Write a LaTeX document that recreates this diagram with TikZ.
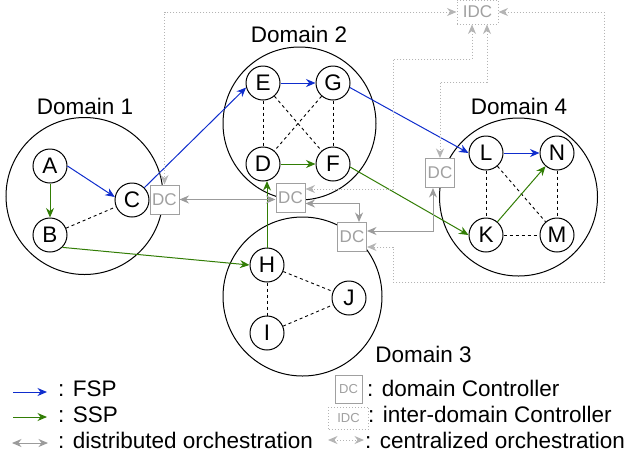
\documentclass[tikz,border=0pt]{standalone}
\usepackage{fontspec}
\setmainfont{Liberation Sans}
\usetikzlibrary{arrows.meta,calc}
\definecolor{fspblue}{RGB}{15,45,205}
\definecolor{sspgreen}{RGB}{50,125,5}
\definecolor{dcgray}{RGB}{160,160,160}
\definecolor{distgray}{RGB}{155,155,155}
\definecolor{centgray}{RGB}{180,180,180}
\begin{document}
\begin{tikzpicture}[x=1pt,y=-1pt,
  vertexnode/.style={circle, draw, line width=1pt, fill=white, minimum size=34pt, inner sep=0pt, font=\fontsize{22.5}{25}\selectfont},
  domcircle/.style={circle, draw, line width=1pt, inner sep=0pt},
  dlabel/.style={font=\fontsize{22.5}{26}\selectfont, inner sep=0pt},
  legtext/.style={font=\fontsize{22.5}{25}\selectfont, inner sep=0pt},
  dcbox/.style={rectangle, draw=dcgray, fill=white, text=dcgray, line width=1pt, minimum width=29pt, minimum height=29pt, inner sep=0pt, font=\fontsize{17}{19}\selectfont},
  idcbox/.style={rectangle, draw=centgray, fill=white, text=dcgray, line width=1pt, dash pattern=on 1pt off 2pt, minimum width=41pt, minimum height=24pt, inner sep=0pt, font=\fontsize{17}{19}\selectfont},
  fsparrow/.style={draw=fspblue, line width=1pt, -{Stealth[length=9.5pt,width=8pt]}},
  ssparrow/.style={draw=sspgreen, line width=1pt, -{Stealth[length=9.5pt,width=8pt]}},
  distarrow/.style={draw=distgray, line width=1pt, {Stealth[length=9.5pt,width=8pt]}-{Stealth[length=9.5pt,width=8pt]}},
  centarrow/.style={draw=centgray, line width=1pt, dash pattern=on 1pt off 2pt, {Stealth[length=9.5pt,width=8pt]}-{Stealth[length=9.5pt,width=8pt]}},
  dlink/.style={draw, line width=0.9pt, dash pattern=on 3pt off 3pt}
]
\useasboundingbox (0,0) rectangle (626,459);

% domains
\node[domcircle, minimum size=157pt] (dom1) at (84.5,196) {};
\node[domcircle, minimum size=153pt] (dom2) at (299.5,123.5) {};
\node[domcircle, minimum size=159pt] (dom3) at (302.5,296.5) {};
\node[domcircle, minimum size=158pt] (dom4) at (518.5,197) {};
\node[dlabel] (lab1) at (85,106.5) {Domain 1};
\node[dlabel] (lab2) at (299,34) {Domain 2};
\node[dlabel] (lab3) at (423.5,354) {Domain 3};
\node[dlabel] (lab4) at (519,106.5) {Domain 4};

% vertices
\node[vertexnode] (A) at (50,166) {A};
\node[vertexnode] (B) at (50,235) {B};
\node[vertexnode] (C) at (132,200) {C};
\node[vertexnode] (E) at (263,83) {E};
\node[vertexnode] (G) at (333,83) {G};
\node[vertexnode] (D) at (263,164) {D};
\node[vertexnode] (F) at (333,164) {F};
\node[vertexnode] (H) at (267,265) {H};
\node[vertexnode] (J) at (349,298) {J};
\node[vertexnode] (I) at (267,333) {I};
\node[vertexnode] (L) at (486,153) {L};
\node[vertexnode] (N) at (557,153) {N};
\node[vertexnode] (K) at (486,235) {K};
\node[vertexnode] (M) at (557,235) {M};

% controllers
\node[dcbox] (DC1) at (164.5,199.5) {DC};
\node[dcbox] (DC2) at (290.5,197.5) {DC};
\node[dcbox] (DC3) at (352,237) {DC};
\node[dcbox] (DC4) at (440,173) {DC};
\node[idcbox] (IDC) at (477.5,12) {IDC};

% dashed links
\draw[dlink] (B) -- (C);
\draw[dlink] (E) -- (D);
\draw[dlink] (E) -- (F);
\draw[dlink] (G) -- (D);
\draw[dlink] (G) -- (F);
\draw[dlink] (H) -- (I);
\draw[dlink] (H) -- (J);
\draw[dlink] (I) -- (J);
\draw[dlink] (L) -- (K);
\draw[dlink] (L) -- (M);
\draw[dlink] (N) -- (M);
\draw[dlink] (K) -- (M);

% FSP
\draw[fsparrow] (A.east) -- (C.170);
\draw[fsparrow] (C.45) -- (E.195);
\draw[fsparrow] (E) -- (G);
\draw[fsparrow] (G.-15) -- (L.west);
\draw[fsparrow] (L) -- (N);

% SSP
\draw[ssparrow] (A) -- (B);
\draw[ssparrow] (B.-45) -- (H.west);
\draw[ssparrow] (H.north) -- ($(D.south -| H.north)+(0,-0.5)$);
\draw[ssparrow] (D) -- (F);
\draw[ssparrow] (F.-10) -- (K.west);
\draw[ssparrow] (K) -- (N);

% distributed orchestration
\draw[distarrow] (DC1.east) -- (DC1.east -| DC2.west);
\draw[distarrow] ($(DC2.east)+(0,6)$) -| ($(DC3.north)+(7,0)$);
\draw[distarrow] ($(DC3.east)+(0,-6)$) -| ($(DC4.south)+(-7,0)$);

% centralized orchestration
\coordinate (c1) at (393,59);
\coordinate (c2) at (440,82);
\coordinate (c3) at (604,282);
\coordinate (c4) at (393,247);
\draw[centarrow] (IDC.west) -| (DC1.north);
\draw[centarrow] ($(IDC.south)+(-5.5,0)$) |- (c1) |- ($(DC2.east)+(0,-8.5)$);
\draw[centarrow] ($(IDC.south)+(9.5,0)$) |- (c2) -- (DC4.north);
\draw[centarrow] (IDC.east) -| (c3) -| (c4) -- ($(DC3.east)+(0,10)$);

% legend
\coordinate (f1) at (13,392);
\coordinate (f2) at (47,392);
\draw[fsparrow] (f1) -- (f2);
\node[legtext, anchor=base west] (tf) at (58,396) {: FSP};
\coordinate (s1) at (13,417);
\coordinate (s2) at (47,417);
\draw[ssparrow] (s1) -- (s2);
\node[legtext, anchor=base west] (ts) at (58,422) {: SSP};
\coordinate (d1) at (12,443);
\coordinate (d2) at (48,443);
\draw[distarrow] (d1) -- (d2);
\node[legtext, anchor=base west] (td) at (58,448) {: distributed orchestration};

\node[dcbox, minimum width=27pt, minimum height=28pt, font=\fontsize{13}{15}\selectfont] (ldc) at (348.5,389) {DC};
\node[legtext, anchor=base west] (tdc) at (367,396) {: domain Controller};
\node[idcbox, minimum width=40pt, minimum height=22pt, font=\fontsize{13}{15}\selectfont] (lidc) at (348.5,418) {IDC};
\node[legtext, anchor=base west] (tidc) at (368,422) {: inter-domain Controller};
\coordinate (e1) at (328,440);
\coordinate (e2) at (364,440);
\draw[centarrow] (e1) -- (e2);
\node[legtext, anchor=base west] (tce) at (365,448) {: centralized orchestration};
\end{tikzpicture}
\end{document}
